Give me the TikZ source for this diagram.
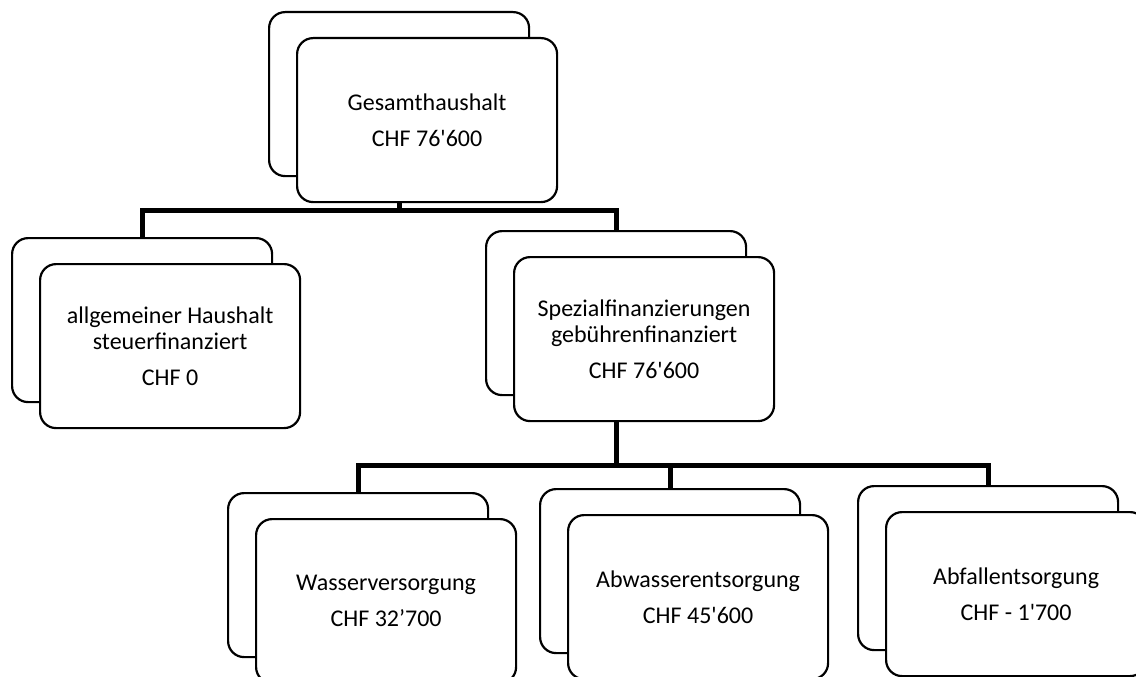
\documentclass[tikz,border=0pt]{standalone}
\usepackage{fontspec}
\setmainfont{Carlito}
\newcommand{\apos}{\textquotesingle}

\begin{document}
\begin{tikzpicture}[x=1pt,y=-1pt,
  card/.style={rectangle,rounded corners=16pt,line width=2.2pt,draw=black,fill=white,
    minimum width=260pt,minimum height=164pt,anchor=north west,inner sep=0pt},
  cardtext/.style={card,align=center,font=\fontsize{24}{26}\selectfont},
  bus/.style={line width=5pt}]
\clip (0,0) rectangle (1136,677);
\fill[white] (0,0) rectangle (1136,677);
% hintere Karten
\node[card] (gesamtB) at (268,11) {};
\node[card] (allgB) at (11,237) {};
\node[card] (spezB) at (485,230) {};
\node[card] (wasserB) at (227,492) {};
\node[card] (abwasserB) at (539,488) {};
\node[card] (abfallB) at (857,485) {};
% Verbindungen
\coordinate (busA) at ([yshift=-33pt]gesamtB.south);
\draw[bus] (gesamtB.south) -- (busA) -| (allgB.north);
\draw[bus] (busA) -| (spezB.north);
\coordinate (busB) at ([yshift=-69pt]spezB.south);
\draw[bus] (spezB.south) -- (busB) -| (wasserB.north);
\draw[bus] (busB) -| (abwasserB.north);
\draw[bus] (busB) -| (abfallB.north);
% vordere Karten
\node[cardtext] (gesamt) at (296,37)
  {Gesamthaushalt\\[10pt] CHF 76\apos600};
\node[cardtext] (allg) at (39,263)
  {allgemeiner Haushalt\\ steuerfinanziert\\[10pt] CHF 0};
\node[cardtext] (spez) at (513,256)
  {Spezialfinanzierungen\\ gebührenfinanziert\\[10pt] CHF 76\apos600};
\node[cardtext] (wasser) at (255,518)
  {Wasserversorgung\\[10pt] CHF 32’700};
\node[cardtext] (abwasser) at (567,514)
  {Abwasserentsorgung\\[10pt] CHF 45\apos600};
\node[cardtext] (abfall) at (885,511)
  {Abfallentsorgung\\[10pt] CHF - 1\apos700};
\end{tikzpicture}
\end{document}
